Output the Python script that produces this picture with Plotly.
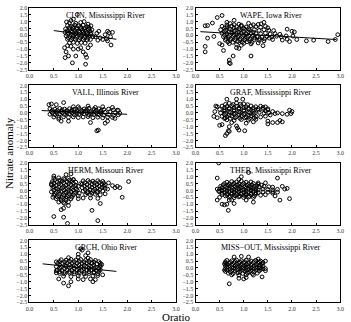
import plotly.graph_objects as go

titles = ["CLIN, Mississippi River", "WAPE, Iowa River", "VALL, Illinois River", "GRAF, Mississippi River",
          "HERM, Missouri River", "THEB, Mississippi River", "GRCH, Ohio River", "MISS\u2212OUT, Mississippi River"]

clin_pts = [(0.78,0.72),(0.86,0.66),(0.93,0.75),(1.01,0.69),(1.10,0.74),(1.18,0.64),
(0.74,0.47),(0.82,0.42),(0.90,0.50),(0.97,0.44),(1.05,0.48),(1.13,0.41),(1.21,0.46),(1.28,0.40),
(0.73,0.22),(0.80,0.18),(0.88,0.24),(0.95,0.16),(1.03,0.21),(1.10,0.25),(1.18,0.17),(1.26,0.20),
(0.75,-0.03),(0.83,-0.08),(0.90,-0.02),(0.98,-0.06),(1.06,-0.01),(1.14,-0.07),(1.22,-0.04),(1.30,-0.09),
(0.78,-0.28),(0.86,-0.33),(0.94,-0.27),(1.02,-0.32),(1.10,-0.29),(1.18,-0.34),(1.25,-0.30),
(0.82,-0.55),(0.90,-0.50),(0.98,-0.58),(1.06,-0.52),(1.14,-0.57),
(0.82,0.58),(0.89,0.61),(0.97,0.56),(1.05,0.60),(1.14,0.55),(1.22,0.59),
(0.77,0.33),(0.85,0.30),(0.93,0.35),(1.01,0.31),(1.08,0.36),(1.16,0.29),(1.24,0.33),
(0.78,0.08),(0.86,0.05),(0.94,0.10),(1.02,0.06),(1.10,0.09),(1.18,0.04),(1.26,0.07),
(0.80,-0.17),(0.88,-0.20),(0.96,-0.15),(1.04,-0.19),(1.12,-0.16),(1.20,-0.21),
(0.82,0.92),(0.95,0.88),(1.05,0.94),
(0.85,1.08),(0.90,1.18),(0.98,1.52),(1.20,0.82),(1.26,0.70),(0.76,0.98),(1.12,1.0),
(1.60,0.30),(1.63,0.20),(1.66,-0.10),(1.60,-0.40),(1.67,-0.70),(1.50,-0.30),(1.45,-0.18),(1.55,0.05),
(1.40,-0.35),(1.35,-0.10),(1.70,0.22),(1.58,-0.25),(1.38,0.15),(1.42,0.30),
(0.72,-0.90),(0.75,-1.20),(0.80,-1.50),(0.73,-1.62),(0.88,-2.00),(0.95,-1.50),(1.00,-1.00),(1.10,-1.20),
(1.15,-1.40),(1.17,-1.60),(1.15,-2.10),(1.05,-0.90),(0.90,-1.00),(0.85,-0.80),(1.20,-0.90),(0.78,-0.75),(1.25,-0.70)]

wape_pts = [(0.72,0.86),(0.9,0.82),(1.1,0.88),(1.36,0.84),(1.42,0.95),
(0.55,0.66),(0.65,0.62),(0.75,0.68),(0.85,0.63),(0.95,0.67),(1.05,0.61),(1.15,0.69),(1.25,0.64),(1.35,0.60),(1.45,0.66),
(0.60,0.52),(0.70,0.49),(0.80,0.54),(0.90,0.50),(1.00,0.53),(1.10,0.48),
(0.52,0.41),(0.62,0.38),(0.72,0.43),(0.82,0.37),(0.92,0.40),(1.02,0.44),(1.12,0.39),(1.22,0.42),(1.32,0.36),(1.42,0.41),(1.52,0.38),(1.62,0.35),
(0.60,0.27),(0.70,0.25),(0.80,0.29),(0.90,0.24),(1.00,0.28),(1.10,0.26),(1.20,0.23),
(0.55,0.15),(0.65,0.12),(0.75,0.17),(0.85,0.13),(0.95,0.16),(1.05,0.11),(1.15,0.18),(1.25,0.14),(1.35,0.12),(1.45,0.16),(1.55,0.10),(1.65,0.13),(1.75,0.08),
(0.60,0.02),(0.70,-0.01),(0.80,0.04),(0.90,0.00),(1.00,0.03),(1.10,-0.02),(1.20,0.01),
(0.58,-0.10),(0.68,-0.13),(0.78,-0.08),(0.88,-0.12),(0.98,-0.09),(1.08,-0.14),(1.18,-0.07),(1.28,-0.11),(1.38,-0.13),(1.48,-0.08),(1.58,-0.12),(1.68,-0.06),(1.78,-0.10),(1.88,-0.04),
(0.63,-0.22),(0.73,-0.25),(0.83,-0.20),(0.93,-0.24),(1.03,-0.21),(1.13,-0.26),(1.23,-0.19),(1.33,-0.23),(1.43,-0.25),(1.53,-0.20),
(0.62,-0.35),(0.72,-0.38),(0.82,-0.33),(0.92,-0.37),(1.02,-0.34),(1.12,-0.39),(1.22,-0.32),(1.32,-0.36),(1.42,-0.40),(1.60,-0.30),(1.80,-0.34),(1.90,-0.28),
(0.67,-0.47),(0.77,-0.50),(0.87,-0.45),(0.97,-0.49),(1.07,-0.46),(1.17,-0.51),
(0.65,0.76),(0.80,0.78),(0.95,0.74),(1.20,0.77),
(0.70,-0.60),(0.85,-0.65),(1.00,-0.58),(1.15,-0.62),(1.30,-0.55),(0.95,-0.72),
(0.20,0.70),(0.25,0.72),(0.20,-0.80),(0.20,-1.20),(0.25,-0.20),(0.35,0.90),(0.45,1.30),(0.55,1.45),(0.65,0.95),(0.38,-0.08),
(0.50,-0.60),(0.55,-0.70),(0.58,-1.10),(0.70,-1.80),(0.70,-2.00),(0.72,-2.05),(0.78,-1.50),(0.80,1.10),(1.15,-1.50),(0.85,-0.90),
(0.90,-0.95),(2.00,0.30),(2.05,0.25),(2.02,-0.05),(2.10,-0.30),(2.30,-0.40),(2.45,-0.35),(2.75,-0.45),(2.90,-0.30),(2.95,0.05),
(1.90,0.45),(1.95,-0.45),(1.30,0.80),(1.40,-0.75),(1.50,0.55)]

vall_pts = [(0.42,0.30),(0.52,0.27),(0.62,0.33),(0.72,0.28),(0.82,0.31),(0.92,0.26),(1.02,0.32),(1.12,0.29),(1.22,0.34),(1.32,0.27),(1.42,0.30),(1.52,0.25),(1.62,0.28),(1.72,0.22),(1.82,0.18),
(0.47,0.20),(0.57,0.17),(0.67,0.22),(0.77,0.18),(0.87,0.21),(0.97,0.16),(1.07,0.19),(1.17,0.23),(1.27,0.15),(1.37,0.20),(1.47,0.17),
(0.45,0.10),(0.55,0.07),(0.65,0.12),(0.75,0.08),(0.85,0.11),(0.95,0.06),(1.05,0.09),(1.15,0.13),(1.25,0.05),(1.35,0.10),(1.45,0.07),(1.55,0.04),(1.65,0.08),(1.75,0.02),(1.85,-0.03),
(0.47,0.00),(0.57,-0.03),(0.67,0.02),(0.77,-0.02),(0.87,0.01),(0.97,-0.04),(1.07,0.00),(1.17,0.03),(1.27,-0.05),(1.37,-0.01),(1.47,-0.03),
(0.42,-0.10),(0.52,-0.13),(0.62,-0.08),(0.72,-0.12),(0.82,-0.09),(0.92,-0.14),(1.02,-0.10),(1.12,-0.07),(1.22,-0.15),(1.32,-0.11),(1.42,-0.13),(1.52,-0.16),(1.62,-0.12),(1.72,-0.18),(1.82,-0.14),
(0.50,-0.30),(0.60,-0.33),(0.70,-0.28),(0.80,-0.32),(0.90,-0.29),(1.00,-0.34),(1.10,-0.30),(1.20,-0.27),(1.30,-0.35),(1.40,-0.31),(1.50,-0.36),(1.60,-0.30),(1.70,-0.33),
(0.40,0.60),(0.45,0.65),(0.55,0.60),(0.70,0.75),(0.65,-0.60),(0.80,-0.60),(1.25,-0.70),(1.38,-1.30),(1.41,-1.25),(1.55,-0.75),
(1.60,-0.60),(1.75,-0.40),(1.70,0.40),(1.80,0.20),(1.35,0.40),(1.00,0.45),(1.20,0.50),(0.60,-0.45),(0.90,0.45),(1.50,0.45)]

graf_pts = [(0.55,0.50),(0.65,0.47),(0.75,0.53),(0.85,0.48),(0.95,0.52),(1.05,0.46),(1.15,0.51),(1.25,0.45),(1.35,0.49),(1.45,0.44),
(0.60,0.37),(0.70,0.34),(0.80,0.39),(0.90,0.35),(1.00,0.38),(1.10,0.33),(1.20,0.36),(1.30,0.32),
(0.50,0.25),(0.60,0.22),(0.70,0.28),(0.80,0.23),(0.90,0.27),(1.00,0.21),(1.10,0.26),(1.20,0.24),(1.30,0.20),(1.40,0.27),(1.50,0.22),
(0.60,0.12),(0.70,0.09),(0.80,0.14),(0.90,0.10),(1.00,0.13),(1.10,0.08),(1.20,0.11),
(0.52,0.00),(0.62,-0.03),(0.72,0.02),(0.82,-0.02),(0.92,0.03),(1.02,-0.04),(1.12,0.01),(1.22,-0.01),(1.32,0.04),(1.42,-0.03),(1.52,0.00),
(0.60,-0.12),(0.70,-0.15),(0.80,-0.10),(0.90,-0.14),(1.00,-0.11),(1.10,-0.16),(1.20,-0.12),
(0.55,-0.25),(0.65,-0.28),(0.75,-0.23),(0.85,-0.27),(0.95,-0.24),(1.05,-0.29),(1.15,-0.22),(1.25,-0.26),(1.35,-0.30),(1.45,-0.24),
(0.62,-0.37),(0.72,-0.40),(0.82,-0.35),(0.92,-0.39),(1.02,-0.36),(1.12,-0.41),(1.22,-0.37),
(0.65,-0.50),(0.80,-0.55),(0.95,-0.48),(1.10,-0.53),(1.25,-0.47),
(0.7,0.70),(0.85,0.72),(1.0,0.66),(0.62,0.62),(0.78,0.61),(0.93,0.63),(1.08,0.60),
(0.42,0.50),(0.45,0.45),(0.40,0.10),(0.38,-0.25),(0.45,-0.35),(0.50,-0.90),(0.55,-0.85),(0.60,-0.40),(0.65,-1.50),(0.70,-1.35),
(0.68,-1.30),(0.62,-1.65),(0.70,-1.00),(0.85,-0.95),(0.87,-1.10),(0.90,-1.25),(1.02,-1.30),(0.85,1.00),(0.65,1.00),(0.98,1.00),
(1.50,-0.60),(1.50,-0.80),(1.60,-0.70),(1.70,-0.70),(1.75,-0.55),(1.80,-0.65),(1.65,-0.05),(1.70,0.00),(1.80,-0.05),(1.90,-0.10),
(1.95,0.20),(2.00,0.10),(1.98,-0.05),(1.40,0.40),(1.50,0.30),(1.45,0.15),(1.55,-0.15),(1.60,0.10),(0.75,-0.70),(1.05,-0.75),(1.2,-0.65)]

herm_pts = [(0.50,0.90),(0.60,0.92),(0.70,0.86),(0.80,0.88),
(0.47,0.65),(0.57,0.62),(0.67,0.68),(0.77,0.63),(0.87,0.66),(0.95,0.60),
(0.52,0.77),(0.62,0.74),(0.72,0.79),(0.82,0.75),(0.90,0.78),
(0.50,0.52),(0.60,0.49),(0.70,0.54),(0.80,0.50),(0.90,0.53),
(0.45,0.40),(0.55,0.37),(0.65,0.43),(0.75,0.38),(0.85,0.41),(0.95,0.36),
(0.50,0.27),(0.60,0.24),(0.70,0.29),(0.80,0.25),(0.90,0.28),
(0.48,0.15),(0.58,0.12),(0.68,0.18),(0.78,0.13),(0.88,0.16),(0.96,0.11),
(0.50,0.02),(0.60,-0.01),(0.70,0.04),(0.80,0.00),(0.90,0.03),
(0.45,-0.10),(0.55,-0.13),(0.65,-0.08),(0.75,-0.12),(0.85,-0.09),(0.95,-0.14),
(0.52,-0.22),(0.62,-0.25),(0.72,-0.20),(0.82,-0.24),(0.92,-0.21),
(0.50,-0.35),(0.60,-0.38),(0.70,-0.33),(0.80,-0.37),(0.90,-0.34),
(0.57,-0.47),(0.67,-0.50),(0.77,-0.45),(0.87,-0.49),
(0.55,-0.60),(0.65,-0.63),(0.75,-0.58),(0.85,-0.62),
(0.60,-0.85),(0.70,-0.88),(0.80,-0.83),(0.65,-0.74),(0.75,-0.72),
(1.10,0.70),(1.20,0.72),(1.30,0.68),(1.40,0.71),(1.50,0.66),
(1.13,0.57),(1.23,0.59),(1.33,0.55),(1.43,0.58),(1.52,0.54),
(1.08,0.45),(1.18,0.42),(1.28,0.48),(1.38,0.43),(1.48,0.46),(1.55,0.40),
(1.13,0.32),(1.23,0.30),(1.33,0.34),(1.43,0.31),(1.52,0.29),
(1.08,0.20),(1.18,0.17),(1.28,0.23),(1.38,0.18),(1.48,0.21),(1.55,0.15),
(1.14,0.07),(1.24,0.05),(1.34,0.09),(1.44,0.06),
(1.10,-0.05),(1.20,-0.08),(1.30,-0.02),(1.40,-0.07),(1.50,-0.04),
(1.18,-0.17),(1.28,-0.19),(1.38,-0.15),
(1.15,-0.30),(1.25,-0.33),(1.35,-0.28),(1.45,-0.32),
(1.25,-0.55),(1.40,-0.58),
(1.00,0.30),(1.02,-0.20),(0.98,0.00),(1.05,0.50),(1.00,-0.40),
(0.50,-1.90),(0.70,-1.95),(0.78,-2.40),(1.40,-2.20),(1.28,-1.45),(0.75,1.15),(0.85,1.20),(1.45,-0.95),(1.90,-0.50),(2.03,0.65),
(1.70,0.35),(1.75,0.20),(1.80,0.30),(1.85,0.20),(1.60,0.10),(1.55,-0.25),(0.45,0.50),(0.48,-0.50),(0.65,-1.40),(0.70,-1.30),
(0.80,-1.10),(0.72,-0.95),(0.50,1.05),(0.90,0.80),(1.62,0.55),(1.00,-0.60),(1.10,-0.55)]

theb_pts = [(0.60,0.50),(0.70,0.47),(0.80,0.53),(0.90,0.48),(1.00,0.52),(1.10,0.46),(1.20,0.51),(1.30,0.45),
(0.57,0.40),(0.67,0.38),(0.77,0.42),(0.87,0.39),(0.97,0.41),(1.07,0.37),(1.17,0.40),(1.27,0.36),(1.37,0.39),
(0.52,0.30),(0.62,0.27),(0.72,0.33),(0.82,0.28),(0.92,0.31),(1.02,0.26),(1.12,0.32),(1.22,0.29),(1.32,0.25),(1.42,0.30),(1.52,0.27),(1.60,0.24),
(0.55,0.20),(0.65,0.17),(0.75,0.22),(0.85,0.18),(0.95,0.21),(1.05,0.16),(1.15,0.19),(1.25,0.14),
(0.50,0.10),(0.60,0.07),(0.70,0.12),(0.80,0.08),(0.90,0.11),(1.00,0.06),(1.10,0.09),(1.20,0.13),(1.30,0.05),(1.40,0.10),(1.50,0.07),(1.60,0.04),(1.70,0.08),
(0.55,0.00),(0.65,-0.03),(0.75,0.02),(0.85,-0.02),(0.95,0.01),(1.05,-0.04),(1.15,0.00),(1.25,-0.01),
(0.50,-0.10),(0.60,-0.13),(0.70,-0.08),(0.80,-0.12),(0.90,-0.09),(1.00,-0.14),(1.10,-0.10),(1.20,-0.07),(1.30,-0.15),(1.40,-0.11),(1.50,-0.13),(1.60,-0.09),(1.70,-0.12),
(0.55,-0.20),(0.65,-0.23),(0.75,-0.18),(0.85,-0.22),(0.95,-0.19),(1.05,-0.24),(1.15,-0.20),(1.25,-0.17),
(0.55,-0.30),(0.65,-0.33),(0.75,-0.28),(0.85,-0.32),(0.95,-0.29),(1.05,-0.34),(1.15,-0.30),(1.25,-0.27),(1.35,-0.35),(1.45,-0.31),
(0.62,-0.40),(0.72,-0.42),(0.82,-0.39),(0.92,-0.41),(1.02,-0.38),(1.12,-0.43),(1.22,-0.40),
(0.70,-0.50),(0.80,-0.53),(0.90,-0.47),(1.00,-0.52),(1.10,-0.48),(1.20,-0.51),
(0.75,0.65),(0.95,0.68),(1.15,0.62),(0.65,0.60),(0.85,0.62),(1.05,0.60),
(0.45,0.90),(0.48,2.00),(1.10,1.30),(0.95,1.00),(0.90,0.80),(1.70,0.90),(1.75,-0.70),(1.95,-0.60),(1.80,0.30),(1.85,0.10),
(1.90,0.15),(0.45,-0.70),(0.50,-0.50),(0.55,-1.00),(0.60,-1.05),(0.65,-1.00),(0.68,-1.45),(0.70,-0.70),(0.75,-0.70),(0.80,-0.95),
(1.05,-0.70),(1.20,-0.85),(1.60,-0.20),(1.65,-0.40),(1.45,0.55),(1.30,0.55),(0.45,0.10),(0.48,-0.05)]

grch_pts = [(0.65,0.60),(0.75,0.57),(0.85,0.63),(0.95,0.58),(1.05,0.62),(1.15,0.56),(1.25,0.61),(1.35,0.55),
(0.62,0.47),(0.72,0.45),(0.82,0.49),(0.92,0.46),(1.02,0.48),(1.12,0.44),(1.22,0.47),(1.32,0.43),(1.42,0.46),
(0.58,0.35),(0.68,0.32),(0.78,0.38),(0.88,0.33),(0.98,0.36),(1.08,0.31),(1.18,0.37),(1.28,0.34),(1.38,0.30),(1.45,0.35),
(0.62,0.22),(0.72,0.19),(0.82,0.24),(0.92,0.20),(1.02,0.23),(1.12,0.18),(1.22,0.21),(1.32,0.19),
(0.55,0.10),(0.65,0.07),(0.75,0.12),(0.85,0.08),(0.95,0.11),(1.05,0.06),(1.15,0.09),(1.25,0.13),(1.35,0.05),(1.45,0.10),
(0.62,-0.02),(0.72,-0.05),(0.82,0.00),(0.92,-0.04),(1.02,-0.01),(1.12,-0.06),(1.22,-0.02),(1.32,-0.04),(1.42,-0.03),
(0.57,-0.15),(0.67,-0.18),(0.77,-0.13),(0.87,-0.17),(0.97,-0.14),(1.07,-0.19),(1.17,-0.15),(1.27,-0.12),(1.37,-0.18),(1.45,-0.14),
(0.62,-0.27),(0.72,-0.30),(0.82,-0.26),(0.92,-0.29),(1.02,-0.25),(1.12,-0.31),(1.22,-0.27),(1.32,-0.29),(1.42,-0.26),
(0.62,-0.40),(0.72,-0.43),(0.82,-0.38),(0.92,-0.42),(1.02,-0.39),(1.12,-0.44),(1.22,-0.40),(1.32,-0.37),(1.40,-0.42),
(0.70,-0.60),(0.85,-0.63),(1.00,-0.57),(1.15,-0.62),(1.30,-0.58),
(0.80,0.75),(1.00,0.78),(1.20,0.72),
(0.70,-1.10),(0.80,-1.30),(0.85,-1.00),(0.60,-0.80),(0.55,-0.35),(0.55,-0.20),(1.00,1.00),(1.05,1.40),(1.08,1.30),(1.20,1.10),
(1.15,0.90),(1.25,-0.80),(1.30,-1.00),(1.35,-0.85),(1.45,0.20),(1.50,-0.50),(1.40,-0.55),(1.00,-0.80),(1.10,-0.85),(1.48,0.25),(0.55,0.45)]

miss_pts = [(0.65,0.55),(0.75,0.52),(0.85,0.58),(0.95,0.53),(1.05,0.57),(1.15,0.51),(1.25,0.56),(1.35,0.50),
(0.62,0.45),(0.72,0.42),(0.82,0.48),(0.92,0.43),(1.02,0.46),(1.12,0.41),(1.22,0.47),(1.32,0.44),
(0.62,0.35),(0.70,0.32),(0.80,0.38),(0.90,0.33),(1.00,0.36),(1.10,0.31),(1.20,0.37),(1.30,0.34),(1.38,0.30),
(0.65,0.25),(0.75,0.22),(0.85,0.27),(0.95,0.23),(1.05,0.26),(1.15,0.21),(1.25,0.24),(1.35,0.20),
(0.62,0.15),(0.72,0.12),(0.82,0.17),(0.92,0.13),(1.02,0.16),(1.12,0.11),(1.22,0.14),(1.32,0.10),(1.40,0.15),
(0.65,0.05),(0.75,0.02),(0.85,0.07),(0.95,0.03),(1.05,0.06),(1.15,0.01),(1.25,0.04),(1.35,0.00),
(0.62,-0.05),(0.72,-0.08),(0.82,-0.03),(0.92,-0.07),(1.02,-0.04),(1.12,-0.09),(1.22,-0.05),(1.32,-0.02),(1.40,-0.06),
(0.65,-0.15),(0.75,-0.18),(0.85,-0.13),(0.95,-0.17),(1.05,-0.14),(1.15,-0.19),(1.25,-0.15),(1.35,-0.12),
(0.62,-0.25),(0.72,-0.28),(0.82,-0.23),(0.92,-0.27),(1.02,-0.24),(1.12,-0.29),(1.22,-0.25),(1.32,-0.22),
(0.68,-0.38),(0.78,-0.41),(0.88,-0.36),(0.98,-0.40),(1.08,-0.37),(1.18,-0.42),(1.28,-0.38),
(0.75,-0.50),(0.90,-0.53),(1.05,-0.49),(1.20,-0.52),
(0.70,-1.15),(1.38,-0.65),(1.45,0.50),(1.40,0.40),(1.45,-0.20),(1.45,-0.05),(0.90,-0.75),(1.00,-0.80),(1.05,-0.70),(0.80,0.80),
(1.10,0.80),(0.95,0.85),(1.30,0.65),(0.60,0.30),(0.60,-0.15)]

# fitted trend lines (None = no line drawn)
fit_x = [[0.50, 1.78], [0.10, 2.92], [0.25, 2.00], None, None, None, [0.27, 1.78], None]
fit_y = [[0.35, -0.28], [0.27, -0.30], [0.17, -0.10], None, None, None, [0.30, -0.25], None]

x_ticks = [0.0, 0.5, 1.0, 1.5, 2.0, 2.5, 3.0]
y_ticks = [2.0, 1.5, 1.0, 0.5, 0.0, -0.5, -1.0, -1.5, -2.0, -2.5]

all_pts = [clin_pts, wape_pts, vall_pts, graf_pts, herm_pts, theb_pts, grch_pts, miss_pts]

W, H = 351, 322
col_px = [(26, 176), (196, 344)]
row_px = [(5, 68), (84, 147), (163, 226), (242, 305)]
FONT = "Liberation Serif"

fig = go.Figure()
layout = {}
annotations = []
for i, pts in enumerate(all_pts):
    r, c = divmod(i, 2)
    n = i + 1
    xa = "x" if n == 1 else f"x{n}"
    ya = "y" if n == 1 else f"y{n}"
    xs = [p[0] for p in pts]
    ys = [p[1] for p in pts]
    fig.add_trace(go.Scatter(x=xs, y=ys, mode="markers", xaxis=xa, yaxis=ya,
                             marker=dict(symbol="circle-open", size=3.8, color="black",
                                         line=dict(width=1, color="black")),
                             showlegend=False, hoverinfo="skip"))
    if fit_x[i] is not None:
        fig.add_trace(go.Scatter(x=fit_x[i], y=fit_y[i], mode="lines", xaxis=xa, yaxis=ya,
                                 line=dict(color="black", width=1), showlegend=False, hoverinfo="skip"))
    x0, x1 = col_px[c]
    y0, y1 = row_px[r]
    axkey = "xaxis" if n == 1 else f"xaxis{n}"
    aykey = "yaxis" if n == 1 else f"yaxis{n}"
    common = dict(showline=True, mirror=True, linecolor="black", linewidth=1, ticks="inside",
                  ticklen=2, tickwidth=1, tickcolor="black", showgrid=False, zeroline=False,
                  tickfont=dict(family=FONT, size=6, color="#333"), tickformat=".1f")
    layout[axkey] = dict(domain=[x0 / W, x1 / W], range=[0, 3], tickvals=x_ticks,
                         anchor=ya, **common)
    layout[aykey] = dict(domain=[1 - y1 / H, 1 - y0 / H], range=[-2.5, 2.0], tickvals=y_ticks,
                         anchor=xa, **common)
    annotations.append(dict(text=titles[i], xref=f"{xa} domain", yref=f"{ya} domain",
                            x=0.52, y=0.99, xanchor="center", yanchor="top", showarrow=False,
                            font=dict(family=FONT, size=8, color="black")))

annotations.append(dict(text="Nitrate anomaly", xref="paper", yref="paper", x=5 / W, y=1 - 153 / H,
                        textangle=-90, showarrow=False, xanchor="center", yanchor="middle",
                        font=dict(family=FONT, size=11, color="black")))
annotations.append(dict(text="Oratio", xref="paper", yref="paper", x=177 / W, y=1 - 312 / H,
                        showarrow=False, xanchor="center", yanchor="top",
                        font=dict(family=FONT, size=11, color="black")))

fig.update_layout(width=W, height=H, margin=dict(l=0, r=0, t=0, b=0),
                  paper_bgcolor="white", plot_bgcolor="white",
                  annotations=annotations, **layout)
fig.write_html("out.html")
